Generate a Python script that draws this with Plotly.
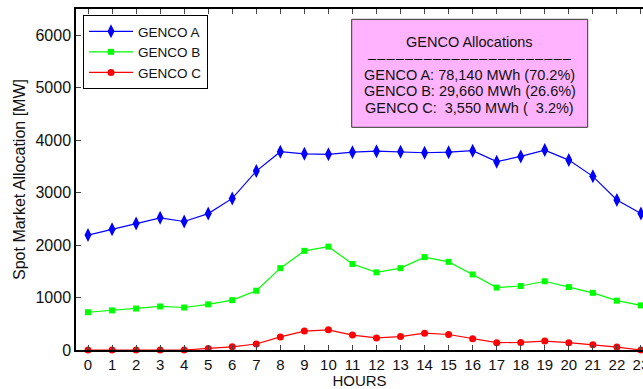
import plotly.graph_objects as go

# Hourly spot-market allocation per generating company [MW]
hours = list(range(24))
genco_a = [2190, 2300, 2410, 2520, 2450, 2600, 2890, 3410, 3780, 3740, 3730, 3770,
           3790, 3780, 3760, 3770, 3800, 3590, 3690, 3810, 3620, 3310, 2860, 2600]
genco_b = [720, 755, 790, 830, 810, 870, 950, 1130, 1560, 1890, 1970, 1640,
           1480, 1560, 1770, 1680, 1440, 1190, 1220, 1310, 1200, 1090, 940, 850]
genco_c = [0, 0, 0, 0, 0, 30, 60, 115, 250, 360, 385, 285,
           230, 255, 320, 295, 215, 140, 145, 170, 140, 100, 55, 0]

series_names = ["GENCO A", "GENCO B", "GENCO C"]
summary_title = "GENCO Allocations"
summary_lines = [
    "GENCO A: 78,140 MWh (70.2%)",
    "GENCO B: 29,660 MWh (26.6%)",
    "GENCO C:\u00a0 3,550 MWh (\u00a0 3.2%)",
]
x_ticks = hours
y_ticks = [0, 1000, 2000, 3000, 4000, 5000, 6000]

W, H = 643, 389
ML, MR, MT, MB = 76, 0, 9, 39
PW, PH = W - ML - MR, H - MT - MB
HOUR_PX = 24.04


def px_x(px):
    return (px - ML) / PW


def px_y(py):
    return (H - MB - py) / PH


font_family = "Arial, 'Liberation Sans', Helvetica, sans-serif"

fig = go.Figure()
styles = [
    ("#0000FF", "diamond-tall", 10),
    ("#00FF00", "square", 6),
    ("#FF0000", "circle", 7),
]
for name, values, (color, symbol, size) in zip(series_names, [genco_a, genco_b, genco_c], styles):
    fig.add_trace(go.Scatter(
        x=hours, y=values, name=name, mode="lines+markers",
        line=dict(color=color, width=1.2),
        marker=dict(color=color, symbol=symbol, size=size, line=dict(width=0)),
        cliponaxis=False,
    ))

# Summary box
fig.add_shape(type="rect", xref="paper", yref="paper",
              x0=px_x(351.7), x1=px_x(587.7), y0=px_y(127.3), y1=px_y(19.3),
              fillcolor="#FFB3FF", line=dict(color="#333333", width=1), layer="above")

text_rows = [summary_title, "\u2013\u200a" * 22, *summary_lines]
row_centers = [41.7, 58.0, 74.7, 91.3, 108.0]
for txt, yc in zip(text_rows, row_centers):
    fig.add_annotation(xref="paper", yref="paper", x=px_x(469.7), y=px_y(yc),
                       text=txt, showarrow=False, xanchor="center", yanchor="middle",
                       font=dict(family=font_family, size=14.5, color="#111111"))

x_range_max = -0.5 + PW / HOUR_PX

fig.update_layout(
    width=W, height=H,
    margin=dict(l=ML, r=MR, t=MT, b=MB, pad=0, autoexpand=False),
    paper_bgcolor="white", plot_bgcolor="white",
    font=dict(family=font_family, size=16, color="#111111"),
    showlegend=True,
    legend=dict(x=px_x(83), y=px_y(15), xanchor="left", yanchor="top",
                bgcolor="white", bordercolor="black", borderwidth=1,
                font=dict(size=13.5), itemwidth=44, tracegroupgap=0),
    xaxis=dict(range=[-0.5, x_range_max], tickvals=x_ticks, ticks="inside", ticklen=5,
               showline=True, linecolor="black", linewidth=1.5, mirror="ticks",
               showgrid=False, zeroline=False, ticklabeloverflow="allow",
               automargin=False, tickfont=dict(size=15),
               title=dict(text="HOURS", standoff=3, font=dict(size=15))),
    yaxis=dict(range=[0, 6500], tickvals=y_ticks, ticks="inside", ticklen=5,
               showline=True, linecolor="black", linewidth=1.5, mirror=False,
               showgrid=False, zeroline=False, automargin=False, tickfont=dict(size=16),
               title=dict(text="Spot Market Allocation [MW]", standoff=6, font=dict(size=16))),
)

fig.write_html("out.html")
